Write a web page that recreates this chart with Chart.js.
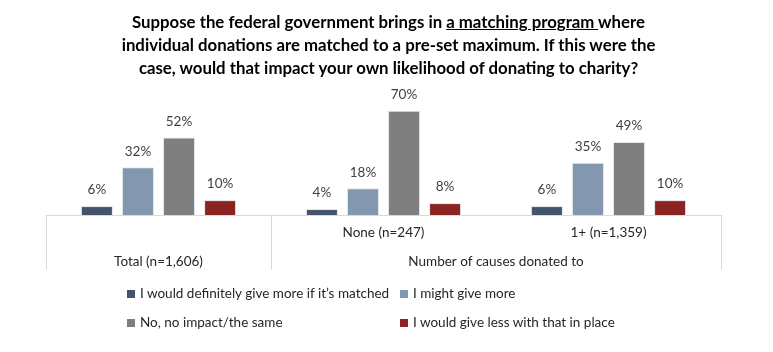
<!DOCTYPE html>
<html>
<head>
<meta charset="utf-8">
<script src="https://cdn.jsdelivr.net/npm/chart.js@4.4.1/dist/chart.umd.min.js"></script>
<style>
  body { margin: 0; background: #fff; font-family: Lato, sans-serif; }
  #wrap { position: relative; width: 773px; height: 352px; }
  #myChart { position: absolute; left: 0; top: 0; }
  #title { position: absolute; left: 0; top: 10px; width: 777px; text-align: center;
           font-weight: bold; font-size: 16.8px; line-height: 23px; color: #000; }
  #legend { position: absolute; left: 0; top: 0; font-size: 13.5px; color: #262626; }
  .item { position: absolute; white-space: nowrap; line-height: 16px; }
  .box { display: inline-block; width: 8px; height: 8px; margin-right: 5px; vertical-align: 0px; }
</style>
</head>
<body>
<div id="wrap">
  <canvas id="myChart" width="773" height="352"></canvas>
  <div id="title">Suppose the federal government brings in <u>a matching program </u>where<br>individual donations are matched to a pre-set maximum. If this were the<br>case, would that impact your own likelihood of donating to charity?</div>
  <div id="legend"></div>
</div>
<script>
const categories = ["Total (n=1,606)", "None (n=247)", "1+ (n=1,359)"];
const groupLabel = "Number of causes donated to";
const series_names = [
	"I would definitely give more if it\u2019s matched",
	"I might give more",
	"No, no impact/the same",
	"I would give less with that in place"
];
const give_more_matched = [6, 4, 6];
const might_give_more = [32, 18, 35];
const no_impact = [52, 70, 49];
const give_less = [10, 8, 10];
const colors = ["#44546A", "#8497B0", "#7F7F7F", "#8B2323"];

const ctx = document.getElementById('myChart');

// value labels over each bar
const barLabels = {
	id: 'barLabels',
	afterDatasetsDraw(chart) {
		const c = chart.ctx;
		c.save();
		c.font = "13.5px Lato";
		c.fillStyle = "#404040";
		c.textAlign = "center";
		c.textBaseline = "middle";
		chart.data.datasets.forEach((ds, i) => {
			chart.getDatasetMeta(i).data.forEach((bar, j) => {
				c.fillText(ds.data[j] + "%", bar.x, bar.y - 16);
			});
		});
		c.restore();
	}
};

// category axis drawn like the excel multi-level axis
const catAxis = {
	id: 'catAxis',
	afterDraw(chart) {
		const c = chart.ctx;
		const a = chart.chartArea;
		const x = chart.scales.x;
		const half = (x.getPixelForValue(1) - x.getPixelForValue(0)) / 2;
		const bottom = a.bottom + 55;
		c.save();
		c.strokeStyle = "#D9D9D9";
		c.lineWidth = 1;
		c.beginPath();
		c.moveTo(a.left, a.bottom + 0.5);
		c.lineTo(a.right, a.bottom + 0.5);
		[a.left, x.getPixelForValue(0) + half, a.right].forEach(px => {
			px = Math.round(px) + 0.5;
			c.moveTo(px, a.bottom);
			c.lineTo(px, bottom);
		});
		c.stroke();

		c.font = "13.5px Lato";
		c.fillStyle = "#262626";
		c.textAlign = "center";
		c.textBaseline = "middle";
		c.fillText(categories[0], x.getPixelForValue(0), a.bottom + 47);
		c.fillText(categories[1], x.getPixelForValue(1), a.bottom + 18);
		c.fillText(categories[2], x.getPixelForValue(2), a.bottom + 18);
		c.fillText(groupLabel, (x.getPixelForValue(1) + x.getPixelForValue(2)) / 2, a.bottom + 47);
		c.restore();
	}
};

const values = [give_more_matched, might_give_more, no_impact, give_less];

const chart = new Chart(ctx, {
	type: 'bar',
	data: {
		labels: categories,
		datasets: series_names.map((name, i) => ({
			label: name,
			data: values[i],
			backgroundColor: colors[i],
			borderColor: "#E6E6E6",
			borderWidth: 1,
			categoryPercentage: 0.73,
			barPercentage: 0.78
		}))
	},
	options: {
		responsive: false,
		animation: false,
		layout: {
			padding: { left: 46, right: 52, top: 66, bottom: 137 }
		},
		plugins: {
			legend: { display: false },
			title: { display: false },
			tooltip: { enabled: false }
		},
		scales: {
			x: { display: false },
			y: { display: false, min: 0, max: 100 }
		}
	},
	plugins: [barLabels, catAxis]
});

// legend in two aligned columns
const legend = document.getElementById('legend');
const pos = [[127, 285], [400, 285], [127, 314], [400, 314]];
series_names.forEach((name, i) => {
	const d = document.createElement('div');
	d.className = 'item';
	d.style.left = pos[i][0] + 'px';
	d.style.top = pos[i][1] + 'px';
	d.innerHTML = '<span class="box" style="background:' + colors[i] + '"></span>' + name;
	legend.appendChild(d);
});
</script>
</body>
</html>
